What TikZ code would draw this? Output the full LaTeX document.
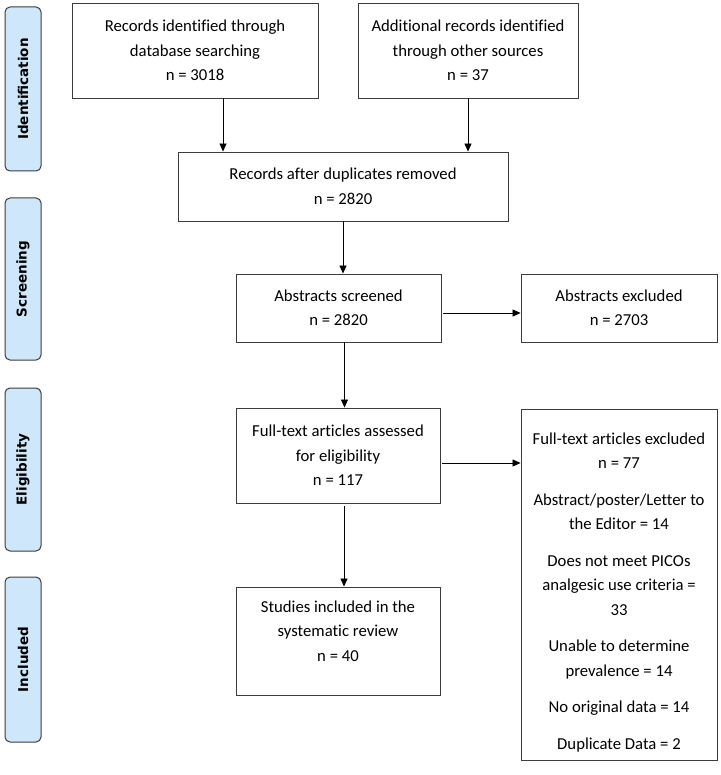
\documentclass[tikz,border=0pt]{standalone}
\usepackage{fontspec}
\setmainfont{Carlito}[Ligatures=NoCommon]
\newfontfamily\sidefont{DejaVu Sans}
\usepackage{tikz}
\usetikzlibrary{arrows.meta}
\definecolor{sideblue}{RGB}{206,231,250}
\definecolor{edgegray}{RGB}{60,60,60}
\tikzset{
	flowbox/.style={draw=edgegray, line width=0.9pt, align=center, inner sep=4pt,
		font=\fontsize{16.7}{24.5}\selectfont},
	sidebox/.style={draw=edgegray, fill=sideblue, line width=1pt, rounded corners=5pt, rotate=90,
		minimum height=36pt, inner sep=0pt, font=\sidefont\bfseries\fontsize{13.5}{16}\selectfont},
	arr/.style={-{Triangle[length=8pt,width=7pt]}, line width=0.8pt}
}

\begin{document}
\begin{tikzpicture}[x=1pt,y=-1pt]
		\useasboundingbox (0,0) rectangle (720,775);
		\node[sidebox, minimum width=164pt] (sid) at (23,89) {Identification};
		\node[sidebox, minimum width=162pt] (ssc) at (23,279) {Screening};
		\node[sidebox, minimum width=163pt] (sel) at (23,469.5) {Eligibility};
		\node[sidebox, minimum width=165pt] (sin) at (23,659.5) {Included};
		\node[flowbox, minimum width=246pt, minimum height=95pt] (db) at (195,50.5) {Records identified through\\database searching\\n = 3018};
		\node[flowbox, minimum width=220pt, minimum height=95pt] (other) at (468,50.5) {Additional records identified\\through other sources\\n = 37};
		\node[flowbox, minimum width=330pt, minimum height=69pt] (dup) at (343,186.5) {Records after duplicates removed\\n = 2820};
		\node[flowbox, minimum width=205pt, minimum height=68pt] (abs) at (338.5,308) {Abstracts screened\\n = 2820};
		\node[flowbox, minimum width=196pt, minimum height=68pt] (absex) at (619,308) {Abstracts excluded\\n = 2703};
		\node[flowbox, minimum width=204pt, minimum height=95pt] (full) at (338,455.5) {Full-text articles assessed\\for eligibility\\n = 117};
		\node[flowbox, minimum width=196pt, minimum height=351pt] (fullex) at (619,584.5) {\rule{0pt}{27pt}Full-text articles excluded\\n = 77\\[12pt]
			Abstract/poster/Letter to\\the Editor = 14\\[12pt]
			Does not meet PICOs\\analgesic use criteria =\\33\\[12pt]
			Unable to determine\\prevalence = 14\\[12pt]
			No original data = 14\\[12pt]
			Duplicate Data = 2};
		\node[flowbox, minimum width=204pt, minimum height=108pt] (incl) at (338,641) {Studies included in the\\systematic review\\n = 40\rule[-20pt]{0pt}{20pt}};
		\draw[arr] ([xshift=28pt]db.south) -- ([xshift=28pt]db.south |- dup.north);
		\draw[arr] (other.south) -- (other.south |- dup.north);
		\draw[arr] (dup.south) -- (dup.south |- abs.north);
		\coordinate (absout) at ([xshift=2pt,yshift=-5pt]abs.east);
		\draw[arr] (absout) -- (absout -| absex.west);
		\draw[arr] ([xshift=6pt]abs.south) -- ([xshift=6pt]abs.south |- full.north);
		\coordinate (fullout) at ([xshift=2pt,yshift=-7.5pt]full.east);
		\draw[arr] (fullout) -- (fullout -| fullex.west);
		\draw[arr] ([xshift=6pt,yshift=-3pt]full.south) -- ([xshift=6pt]full.south |- incl.north);
		\end{tikzpicture}
\end{document}
